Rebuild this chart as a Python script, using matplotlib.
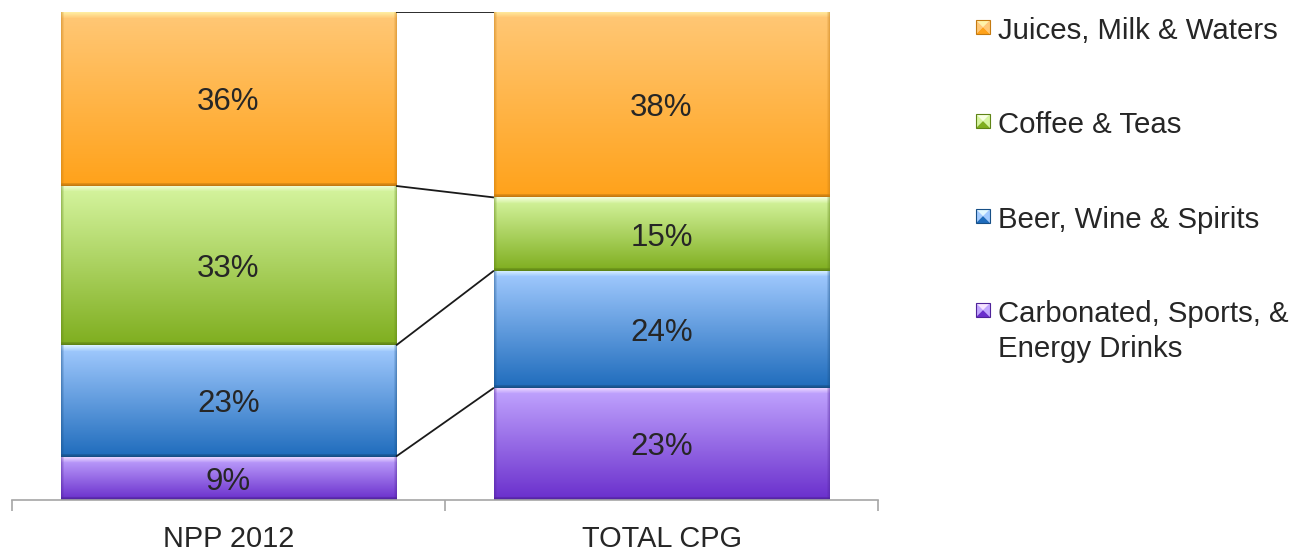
import numpy as np
import matplotlib.pyplot as plt
from matplotlib.colors import to_rgb
from matplotlib.patches import Polygon

plt.rcParams['font.family'] = ['Liberation Sans', 'DejaVu Sans']

# share of beverage sales, bottom segment first
categories = ['NPP 2012', 'TOTAL CPG']
segments = ['Carbonated, Sports, &\nEnergy Drinks', 'Beer, Wine & Spirits',
            'Coffee & Teas', 'Juices, Milk & Waters']
npp_2012 = [9, 23, 33, 36]
total_cpg = [23, 24, 15, 38]
values = np.array([npp_2012, total_cpg], dtype=float)

# (top highlight, top, bottom, bottom edge) per segment
palettes = [
    ('#f6e4ff', '#c2a6ff', '#6a2fcc', '#4f2399'),
    ('#e2f8ff', '#a3cbff', '#1f6cbc', '#174f86'),
    ('#f7ffe2', '#d6f5a0', '#7fae1f', '#5f8416'),
    ('#fff3a8', '#ffc877', '#ffa21a', '#c47a10'),
]

W, H, DPI = 1292, 553, 100
fig = plt.figure(figsize=(W / DPI, H / DPI), dpi=DPI)
ax = fig.add_axes([12 / W, 53 / H, 866 / W, 488 / H])
ax.set_xlim(-0.5, 1.5)
ax.set_ylim(0, 100)

bar_w = 0.774
px_x = 866 / 2.0
px_y = 488 / 100.0


def bevel_image(pal, h_px, w_px):
    hi, top, bot, edge = [np.array(to_rgb(c)) for c in pal]
    rows = max(int(round(h_px)), 2)
    cols = max(int(round(w_px)), 2)
    t = np.linspace(0, 1, rows)[:, None]
    col = top * (1 - t) + bot * t
    img = np.repeat(col[:, None, :], cols, axis=1)
    n_hi = min(6, rows // 3)
    for i in range(n_hi):
        a = 1 - i / n_hi
        img[i] = img[i] * (1 - a * 0.85) + hi * a * 0.85
    n_bot = min(3, rows // 6 + 1)
    for i in range(n_bot):
        a = 1 - i / (n_bot + 1)
        img[rows - 1 - i] = img[rows - 1 - i] * (1 - a) + edge * a
    for j in range(3):
        a = 0.45 * (1 - j / 3)
        img[:, j] = img[:, j] * (1 - a) + edge * a
        img[:, cols - 1 - j] = img[:, cols - 1 - j] * (1 - a) + edge * a
    return img


tops = []
for i, cat in enumerate(categories):
    shares = values[i] / values[i].sum() * 100
    base = 0.0
    cum = []
    for k, (v, s) in enumerate(zip(values[i], shares)):
        img = bevel_image(palettes[k], s * px_y, bar_w * px_x)
        ax.imshow(img, extent=[i - bar_w / 2, i + bar_w / 2, base, base + s],
                  aspect='auto', interpolation='bilinear', zorder=2)
        ax.text(i, base + s / 2, f'{v:.0f}%', ha='center', va='center_baseline',
                fontsize=22.5, color='#262626', zorder=4)
        base += s
        cum.append(base)
    tops.append(cum)

# series lines joining the segment tops
for a, b in zip(tops[0], tops[1]):
    ax.plot([0 + bar_w / 2, 1 - bar_w / 2], [a, b], color='#1a1a1a',
            lw=1.3, zorder=3, solid_capstyle='butt')

ax.set_xlim(-0.5, 1.5)
ax.set_ylim(0, 100)
for side in ['top', 'right', 'left']:
    ax.spines[side].set_visible(False)
ax.spines['bottom'].set_color('#a6a6a6')
ax.spines['bottom'].set_linewidth(1.2)
ax.set_yticks([])
ax.set_xticks([0, 1])
ax.set_xticklabels(categories, fontsize=20.8, color='#262626')
ax.tick_params(axis='x', which='major', length=0, pad=18)
ax.set_xticks([-0.5, 0.5, 1.5], minor=True)
ax.tick_params(axis='x', which='minor', length=8, width=1.2,
               color='#a6a6a6', direction='out')


def fpt(x, y):
    return (x / W, 1 - y / H)


# legend, top entry first
legend_y = [30, 124, 219, 313]
for k, y in zip([3, 2, 1, 0], legend_y):
    hi, top, bot, edge = palettes[k]
    x0, x1, y0, y1 = 976, 990, y - 10, y + 4
    cx, cy = (x0 + x1) / 2, (y0 + y1) / 2
    tris = [
        ([(x0, y0), (x1, y0), (cx, cy)], hi),
        ([(x0, y0), (x0, y1), (cx, cy)], top),
        ([(x1, y0), (x1, y1), (cx, cy)], top),
        ([(x0, y1), (x1, y1), (cx, cy)], bot),
    ]
    for pts, c in tris:
        fig.patches.append(Polygon([fpt(*p) for p in pts], closed=True,
                                   transform=fig.transFigure,
                                   facecolor=c, edgecolor='none'))
    fig.patches.append(Polygon([fpt(x0, y0), fpt(x1, y0), fpt(x1, y1), fpt(x0, y1)],
                               closed=True, transform=fig.transFigure,
                               facecolor='none', edgecolor=edge, lw=0.8))
    for n, line in enumerate(segments[k].split('\n')):
        fig.text(998 / W, 1 - (y + 9 + n * 35) / H, line, fontsize=21.2,
                 color='#262626', ha='left', va='baseline')

fig.savefig('out.png', dpi=DPI)
